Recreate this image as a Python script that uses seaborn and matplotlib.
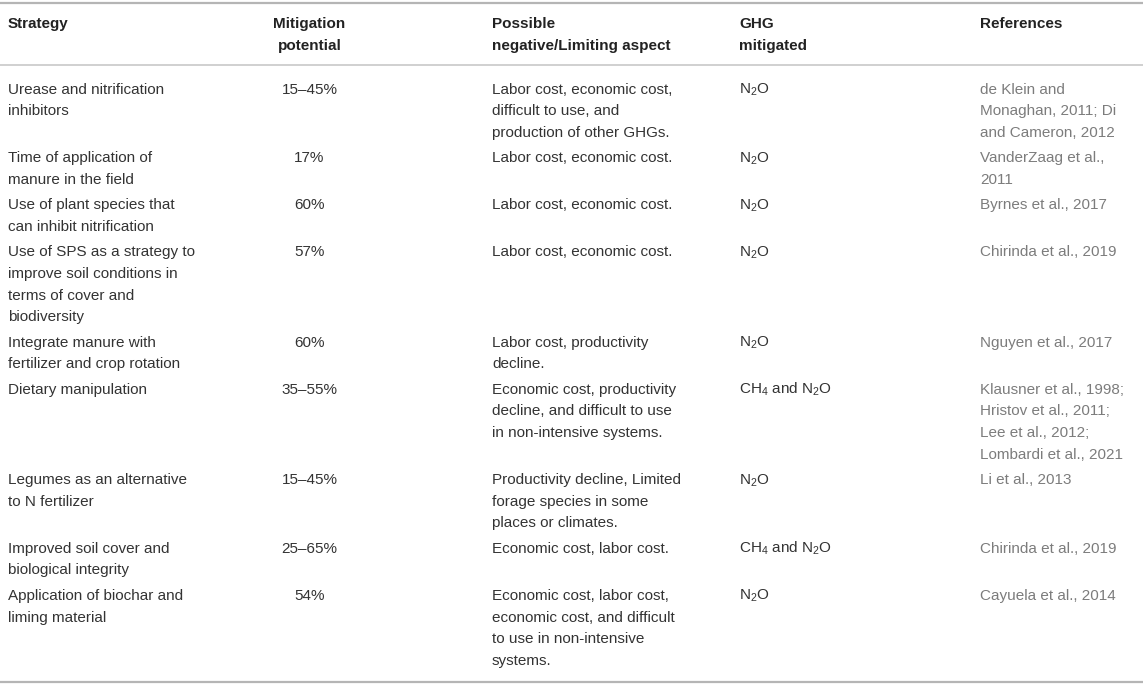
import matplotlib
matplotlib.use("Agg")
import matplotlib.pyplot as plt
import seaborn as sns

# ---------------- data ----------------
headers = ["Strategy", "Mitigation\npotential", "Possible\nnegative/Limiting aspect",
           "GHG\nmitigated", "References"]

strategies = [
    "Urease and nitrification\ninhibitors",
    "Time of application of\nmanure in the field",
    "Use of plant species that\ncan inhibit nitrification",
    "Use of SPS as a strategy to\nimprove soil conditions in\nterms of cover and\nbiodiversity",
    "Integrate manure with\nfertilizer and crop rotation",
    "Dietary manipulation",
    "Legumes as an alternative\nto N fertilizer",
    "Improved soil cover and\nbiological integrity",
    "Application of biochar and\nliming material",
]

potentials = ["15–45%", "17%", "60%", "57%", "60%", "35–55%", "15–45%", "25–65%", "54%"]

limits = [
    "Labor cost, economic cost,\ndifficult to use, and\nproduction of other GHGs.",
    "Labor cost, economic cost.",
    "Labor cost, economic cost.",
    "Labor cost, economic cost.",
    "Labor cost, productivity\ndecline.",
    "Economic cost, productivity\ndecline, and difficult to use\nin non-intensive systems.",
    "Productivity decline, Limited\nforage species in some\nplaces or climates.",
    "Economic cost, labor cost.",
    "Economic cost, labor cost,\neconomic cost, and difficult\nto use in non-intensive\nsystems.",
]

ghg = ["N$_2$O", "N$_2$O", "N$_2$O", "N$_2$O", "N$_2$O",
       "CH$_4$ and N$_2$O", "N$_2$O", "CH$_4$ and N$_2$O", "N$_2$O"]

refs = [
    "de Klein and\nMonaghan, 2011; Di\nand Cameron, 2012",
    "VanderZaag et al.,\n2011",
    "Byrnes et al., 2017",
    "Chirinda et al., 2019",
    "Nguyen et al., 2017",
    "Klausner et al., 1998;\nHristov et al., 2011;\nLee et al., 2012;\nLombardi et al., 2021",
    "Li et al., 2013",
    "Chirinda et al., 2019",
    "Cayuela et al., 2014",
]

# ---------------- style ----------------
sns.set_theme(style="white")
plt.rcParams['font.family'] = ['Liberation Sans', 'DejaVu Sans']
plt.rcParams['mathtext.fontset'] = 'custom'
plt.rcParams['mathtext.rm'] = 'Liberation Sans'
plt.rcParams['mathtext.it'] = 'Liberation Sans:italic'
plt.rcParams['mathtext.bf'] = 'Liberation Sans:bold'
plt.rcParams['mathtext.default'] = 'regular'

W, H = 1143, 685
fig = plt.figure(figsize=(W / 100, H / 100), dpi=100)
ax = fig.add_axes([0, 0, 1, 1])
ax.set_xlim(0, W)
ax.set_ylim(H, 0)
ax.axis("off")
sns.despine(ax=ax, left=True, bottom=True)

FS = 11.0          # points
FPX = FS * 100 / 72
LINE = 21.6
PAD = 3.9
BASE = 0.36 * FPX  # visual centre -> baseline offset

TXT = "#333333"
REF = "#7c7c7c"
RULE = "#b5b5b5"

col_x = [8, 309.5, 492, 739, 980]
col_ha = ["left", "center", "left", "left", "left"]
col_color = [TXT, TXT, TXT, TXT, REF]


def put(x, yc, s, ha, color, weight="normal"):
    for i, line in enumerate(s.split("\n")):
        ax.text(x, yc + i * LINE + BASE, line, ha=ha, va="baseline",
                fontsize=FS, color=color, fontweight=weight)


# rules
ax.plot([0, W], [2.7, 2.7], color=RULE, lw=1.6, solid_capstyle="butt")
ax.plot([0, W], [65, 65], color="#c4c4c4", lw=1.1, solid_capstyle="butt")
ax.plot([0, W], [682, 682], color=RULE, lw=1.6, solid_capstyle="butt")

# header
for x, ha, h in zip(col_x, col_ha, headers):
    put(x, 22.7, h, ha, "#222222", weight="bold")

# body
columns = [strategies, potentials, limits, ghg, refs]
y = 88.0
for r in range(len(strategies)):
    n = max(col[r].count("\n") + 1 for col in columns)
    for c, col in enumerate(columns):
        put(col_x[c], y, col[r], col_ha[c], col_color[c])
    y += n * LINE + PAD

fig.savefig("out.png", dpi=100)
